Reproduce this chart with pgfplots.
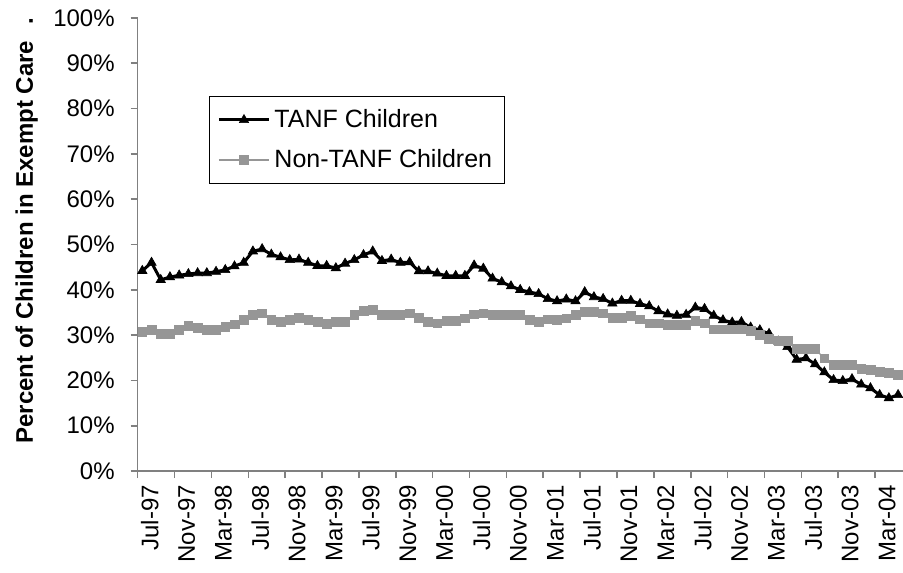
\documentclass[border=0pt]{standalone}
\usepackage{fontspec}
\setmainfont{Liberation Sans}
\usepackage{pgfplots}
\usepackage{pgfplotstable}
\pgfplotsset{compat=1.18}

\definecolor{nongray}{RGB}{150,150,150}
\definecolor{axgray}{RGB}{128,128,128}

% month index (0 = Jul-97), percent TANF, percent non-TANF
\pgfplotstableread{
i  tanf  non
0  44.2  30.8
1  46.0  31.1
2  42.2  30.3
3  42.8  30.3
4  43.2  31.2
5  43.5  32.1
6  43.7  31.6
7  43.7  31.2
8  44.0  31.2
9  44.4  31.8
10 45.2  32.4
11 46.0  33.3
12 48.5  34.4
13 49.0  34.8
14 47.8  33.4
15 47.2  32.9
16 46.6  33.4
17 46.7  33.8
18 46.0  33.4
19 45.3  32.9
20 45.3  32.5
21 44.8  32.9
22 45.8  32.9
23 46.6  34.4
24 47.7  35.3
25 48.5  35.6
26 46.4  34.4
27 46.7  34.4
28 46.0  34.4
29 46.1  34.8
30 44.1  33.9
31 44.1  33.0
32 43.6  32.6
33 43.1  33.1
34 43.1  33.1
35 43.1  33.7
36 45.4  34.6
37 44.7  34.8
38 42.5  34.4
39 41.7  34.4
40 40.8  34.4
41 40.0  34.4
42 39.5  33.3
43 39.1  33.0
44 38.0  33.5
45 37.5  33.3
46 37.9  33.7
47 37.5  34.4
48 39.5  35.2
49 38.4  35.2
50 38.0  34.8
51 37.0  33.8
52 37.6  33.8
53 37.6  34.3
54 36.9  33.5
55 36.4  32.6
56 35.3  32.6
57 34.6  32.2
58 34.3  32.2
59 34.5  32.2
60 36.1  33.1
61 35.8  32.6
62 34.3  31.3
63 33.3  31.3
64 32.8  31.3
65 32.9  31.3
66 31.7  30.9
67 31.1  30.0
68 30.3  29.1
69 28.6  28.8
70 27.4  28.8
71 24.6  26.9
72 24.9  26.9
73 23.6  26.9
74 21.8  24.9
75 20.1  23.4
76 19.9  23.4
77 20.3  23.4
78 19.1  22.5
79 18.3  22.3
80 16.8  21.9
81 16.1  21.6
82 16.8  21.2
}\exempt

\begin{document}
\begin{tikzpicture}
\begin{axis}[
    at={(0,0)}, anchor=south west,
    scale only axis,
    width=382.5bp, height=226.5bp,
    xmin=-0.5, xmax=82.5,
    ymin=0, ymax=100,
    axis x line*=bottom, axis y line*=left,
    axis line style={axgray, line width=0.8bp},
    every tick/.style={axgray, line width=0.8bp},
    tick align=outside,
    major tick length=3.5bp,
    ytick={0,10,...,100},
    yticklabels={0\%,10\%,20\%,30\%,40\%,50\%,60\%,70\%,80\%,90\%,100\%},
    xtick={-0.5,3.5,...,79.5},
    xticklabels={Jul-97,Nov-97,Mar-98,Jul-98,Nov-98,Mar-99,Jul-99,Nov-99,Mar-00,Jul-00,Nov-00,Mar-01,Jul-01,Nov-01,Mar-02,Jul-02,Nov-02,Mar-03,Jul-03,Nov-03,Mar-04},
    ticklabel style={font=\fontsize{12bp}{14bp}\selectfont},
    yticklabel style={xshift=-4.5bp},
    xticklabel style={rotate=90, anchor=east, yshift=-6bp},
    ylabel={Percent of Children in Exempt Care\hspace{8bp}.},
    ylabel style={font=\fontsize{12bp}{14bp}\selectfont\bfseries,
        at={(axis description cs:-0.145,0.53)}, anchor=center, rotate=0},
    legend style={at={(0.0932,0.828)}, anchor=north west,
        draw=black, line width=0.5bp,
        font=\fontsize{12.5bp}{14.5bp}\selectfont,
        inner xsep=4bp, inner ysep=4.5bp, row sep=5.5bp},
    legend cell align=left,
    legend image code/.code={
        \draw[mark repeat=2, mark phase=2] plot coordinates {(0bp,0bp) (12.5bp,0bp) (25bp,0bp)};
    },
]
\addplot[black, line width=1.5bp, mark=triangle*, mark size=2.7bp,
    mark options={line width=0.3bp, fill=black}] table[x=i, y=tanf] {\exempt};
\addlegendentry{TANF Children}

\addplot[nongray, line width=0.6bp, mark=square*, mark size=2.2bp,
    mark options={line width=0.3bp, fill=nongray}] table[x=i, y=non] {\exempt};
\addlegendentry{Non-TANF Children}
\end{axis}
\pgfresetboundingbox
\useasboundingbox (-68.85bp,-51bp) rectangle (382.65bp,235.5bp);
\end{tikzpicture}
\end{document}
